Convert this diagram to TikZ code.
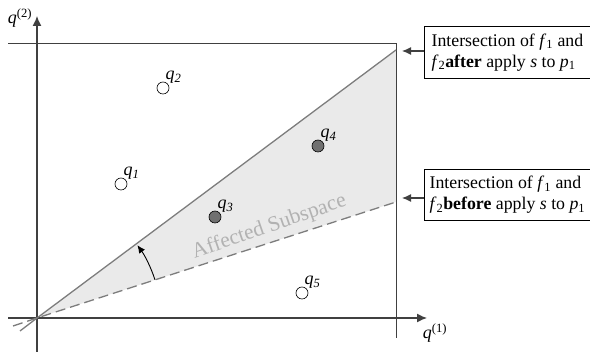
\documentclass[tikz,border=0pt]{standalone}
\usepackage{fontspec}
\setmainfont{Liberation Serif}
\usetikzlibrary{arrows.meta, calc}
\definecolor{axisGray}{RGB}{64,64,64}
\definecolor{lineGray}{RGB}{125,125,125}
\definecolor{shadeGray}{RGB}{234,234,234}
\definecolor{dotGray}{RGB}{112,112,112}
\definecolor{textGray}{RGB}{178,178,178}
\newcommand{\qvar}[1]{\textit{q}\textsubscript{\textit{#1}}}
\newcommand{\fvar}[1]{\textit{f}\textsubscript{#1}}

\begin{document}
\begin{tikzpicture}[x=1pt, y=1pt,
      axis/.style={axisGray, line width=1.3pt, -{Latex[length=10pt, width=9pt]}},
      frame/.style={axisGray, line width=0.9pt},
      bound/.style={lineGray, line width=1.3pt},
      sample/.style={circle, draw=black, line width=0.6pt, minimum size=12pt, inner sep=0pt},
      free/.style={sample, fill=white},
      hit/.style={sample, fill=dotGray},
      qlabel/.style={anchor=south west, inner sep=0pt, font=\fontsize{18}{20}\selectfont},
      axlabel/.style={inner sep=0pt, font=\fontsize{18}{20}\selectfont},
      note/.style={rectangle, draw=black, line width=0.8pt, fill=white, align=left,
        anchor=west, minimum width=166pt, inner xsep=3pt, inner ysep=7pt,
        font=\fontsize{17.8}{21}\selectfont},
      arr/.style={-{Latex[length=9pt, width=8pt]}, axisGray, line width=1.2pt}
    ]
    \useasboundingbox (0,0) rectangle (590,353);
    % affected region
    \coordinate (orig) at (37,35);
    \coordinate (after) at (396,303);
    \coordinate (before) at (396,151);
    \fill[shadeGray] (orig) -- (after) -- (before) -- cycle;

    % frame and axes
    \draw[frame] (8,310) -- (396,310) -- (396,15);
    \draw[axis] (37,1) -- (37,337);
    \draw[axis] (8,35) -- (427,35);
    \node[axlabel] (qy) at (20,335) {\textit{q}\textsuperscript{(2)}};
    \node[axlabel] (qx) at (435,20) {\textit{q}\textsuperscript{(1)}};

    % boundaries of the intersection
    \draw[bound] (20,22) -- (orig) -- (after);
    \draw[bound, dash pattern=on 10pt off 5pt] (13,27) -- (orig) -- (before);
    \draw[-{Latex[length=8pt, width=7pt]}, black, line width=0.9pt]
      ([shift={(18:124)}]orig) arc[start angle=18, end angle=36, radius=124];
    \node[textGray, rotate=19, anchor=base, font=\fontsize{21.5}{23}\selectfont]
      (sub) at (271,121) {Affected Subspace};

    % samples
    \node[free] (q1) at (121,169) {};
    \node[free] (q2) at (163,265) {};
    \node[hit]  (q3) at (215,136) {};
    \node[hit]  (q4) at (318,207) {};
    \node[free] (q5) at (302,60) {};
    \node[qlabel] at ($(q1.north east)+(-2,0)$) {\qvar{1}};
    \node[qlabel] at ($(q2.north east)+(-2,0)$) {\qvar{2}};
    \node[qlabel] at ($(q3.north east)+(-2,0)$) {\qvar{3}};
    \node[qlabel] at ($(q4.north east)+(-2,0)$) {\qvar{4}};
    \node[qlabel] at ($(q5.north east)+(-2,0)$) {\qvar{5}};

    % notes
    \node[note] (na) at (424,300.5) {Intersection of \fvar{1} and\\\textit{f}\textsubscript{2}\textbf{after} apply \textit{s} to \textit{p}\textsubscript{1}};
    \node[note] (nb) at (424,158) {Intersection of \fvar{1} and\\\textit{f}\textsubscript{2}\textbf{before} apply \textit{s} to \textit{p}\textsubscript{1}};
    \coordinate (tipa) at (402,302);
    \coordinate (tipb) at (402,155);
    \draw[arr] (na.west |- tipa) -- (tipa);
    \draw[arr] (nb.west |- tipb) -- (tipb);
  \end{tikzpicture}
\end{document}
